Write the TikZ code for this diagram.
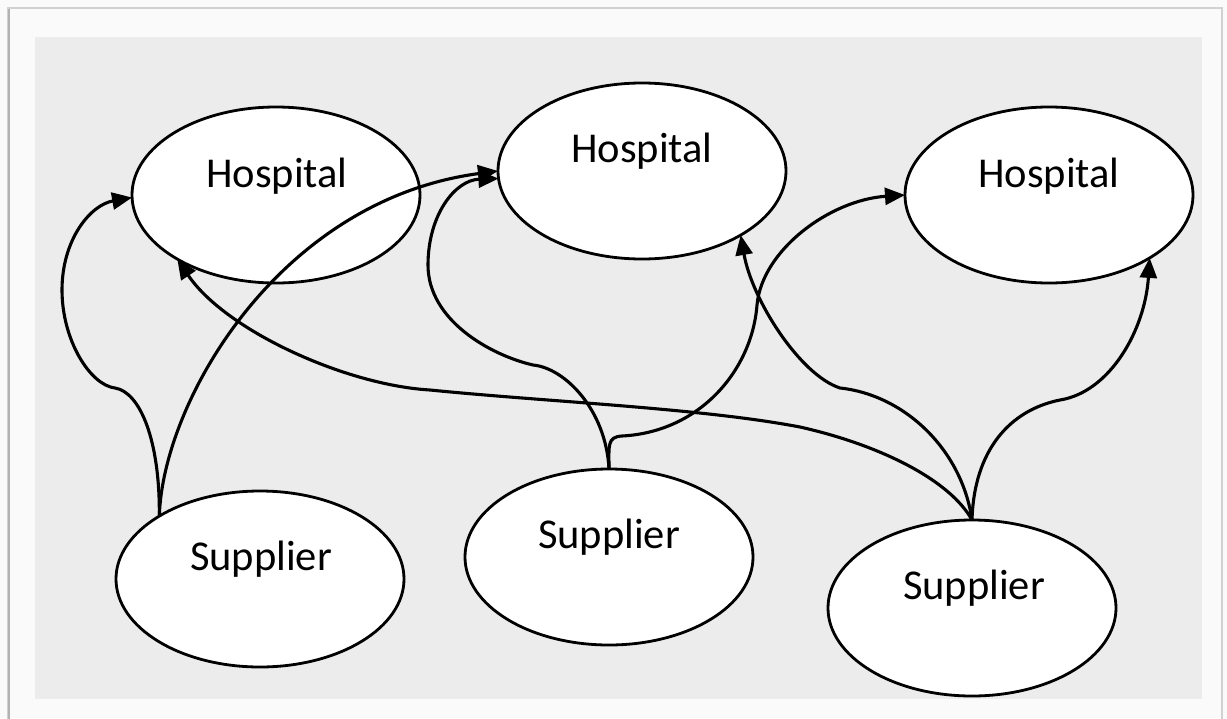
\documentclass[tikz,border=0pt]{standalone}
\usepackage{fontspec}
\setmainfont{Carlito}
\usetikzlibrary{shapes.geometric,arrows.meta}

\begin{document}
\begin{tikzpicture}[x=1pt,y=-1pt,
  bubble/.style={ellipse, draw=black, line width=2.8pt, fill=white,
    inner sep=0pt, outer sep=0pt, minimum width=288pt, minimum height=176pt},
  caption/.style={font=\fontsize{42.5}{50}\selectfont, inner sep=0pt,
    anchor=base, text=black},
  link/.style={line width=3.1pt, draw=black,
    -{Triangle[length=20pt,width=17pt]}},
]
% page, frame and grey panel
\useasboundingbox (0,0) rectangle (1227,718);
\fill[white!98!black] (0,0) rectangle (1227,718);
\draw[black!18, line width=1.2pt] (8,730) -- (8,8) -- (1222,8) -- (1222,730);
\draw[black!30, line width=1.6pt] (8.8,730) -- (8.8,9);
\fill[black!7.5] (35,37) rectangle (1202,699);

% hospitals
\node[bubble] (h1) at (276,195) {};
\node[bubble] (h2) at (642,171) {};
\node[bubble] (h3) at (1049,195) {};
% suppliers
\node[bubble] (s1) at (260,579) {};
\node[bubble] (s2) at (609,557) {};
\node[bubble] (s3) at (972,608) {};

% labels
\node[caption] (h1t) at (277,187) {Hospital};
\node[caption] (h2t) at (642,162) {Hospital};
\node[caption] (h3t) at (1049,187) {Hospital};
\node[caption] (s1t) at (261,570) {Supplier};
\node[caption] (s2t) at (609,548) {Supplier};
\node[caption] (s3t) at (974,599) {Supplier};

% supplier 1
\draw[link] (s1.148) .. controls (160,440) and (140,392) .. (115,388)
  .. controls (90,385) and (62,340) .. (62,290)
  .. controls (62,240) and (90,205) .. (h1.181);
\draw[link] (s1.148) .. controls (163,400) and (280,200) .. (h2.180);

% supplier 2
\draw[link] (s2.north) .. controls (606,410) and (565,368) .. (533,365)
  .. controls (490,355) and (428,320) .. (428,265)
  .. controls (428,215) and (455,180) .. (h2.183);
\draw[link] (s2.north) .. controls (609,445) and (607,437) .. (622,436)
  .. controls (700,432) and (752,370) .. (757,305)
  .. controls (762,250) and (830,200) .. (h3.west);

% supplier 3
\draw[link] (s3.north) .. controls (950,480) and (880,445) .. (800,427)
  .. controls (700,408) and (550,402) .. (430,390)
  .. controls (345,385) and (225,330) .. (h1.213);
\draw[link] (s3.north) .. controls (962,450) and (905,395) .. (840,388)
  .. controls (800,375) and (752,300) .. (h2.327);
\draw[link] (s3.north) .. controls (974,450) and (1010,410) .. (1060,400)
  .. controls (1110,392) and (1145,330) .. (h3.328);
\end{tikzpicture}
\end{document}
